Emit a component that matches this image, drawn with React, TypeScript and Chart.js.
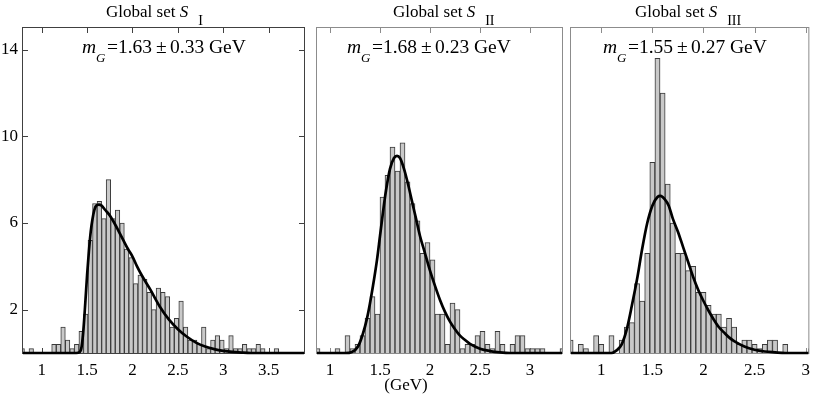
import React, { useEffect, useRef } from 'react';
import { Chart, registerables } from 'chart.js';
Chart.register(...registerables);

const W = 817;
const H = 396;
const SERIF = '"Liberation Serif", "Times New Roman", serif';

// ---------- data ----------
const Y_TICKS = [2, 6, 10, 14];
const S1_X_TICKS = [1, 1.5, 2, 2.5, 3, 3.5];
const S2_X_TICKS = [1, 1.5, 2, 2.5, 3];
const S3_X_TICKS = [1, 1.5, 2, 2.5, 3];

// Global set S_I : histogram bin centres (GeV) and heights
const S1_BIN_CENTERS = [0.785, 0.835, 0.885, 0.935, 0.985, 1.035, 1.085, 1.135, 1.185, 1.235, 1.285, 1.335, 1.385, 1.435, 1.485, 1.535, 1.585, 1.635, 1.685, 1.735, 1.785, 1.835, 1.885, 1.935, 1.985, 2.035, 2.085, 2.135, 2.185, 2.235, 2.285, 2.335, 2.385, 2.435, 2.485, 2.535, 2.585, 2.635, 2.685, 2.735, 2.785, 2.835, 2.885, 2.935, 2.985, 3.035, 3.085, 3.135, 3.185, 3.235, 3.285, 3.335, 3.385, 3.435, 3.485, 3.535, 3.585];
const S1_COUNTS = [0.2, 0, 0.2, 0, 0, 0, 0, 0.4, 0.4, 1.2, 0.6, 0.2, 0.4, 1.0, 1.8, 5.2, 6.9, 7.0, 6.2, 8.0, 6.2, 6.6, 6.0, 4.8, 4.4, 3.2, 3.6, 3.4, 2.8, 2.0, 3.0, 2.8, 2.6, 1.2, 1.6, 2.4, 1.2, 0.6, 0.6, 0.4, 1.2, 0.2, 0.6, 0.8, 0.6, 0.2, 0.8, 0.2, 0.2, 0.4, 0.2, 0.2, 0.4, 0.2, 0, 0, 0.2];
const S1_FIT_X = [0.794, 1.38, 1.42, 1.44, 1.46, 1.48, 1.5, 1.52, 1.54, 1.56, 1.58, 1.6, 1.63, 1.66, 1.7, 1.75, 1.8, 1.85, 1.9, 1.95, 2.0, 2.05, 2.1, 2.2, 2.3, 2.4, 2.5, 2.6, 2.7, 2.8, 2.9, 3.0, 3.1, 3.2, 3.3, 3.889];
const S1_FIT_Y = [0, 0, 0.05, 0.3, 1.1, 2.3, 3.6, 4.7, 5.6, 6.2, 6.6, 6.8, 6.85, 6.8, 6.6, 6.35, 6.0, 5.6, 5.2, 4.8, 4.45, 4.0, 3.6, 2.9, 2.15, 1.55, 1.1, 0.75, 0.48, 0.3, 0.18, 0.1, 0.05, 0.02, 0, 0];

// Global set S_II
const S2_BIN_CENTERS = [0.875, 0.925, 0.975, 1.025, 1.075, 1.125, 1.175, 1.225, 1.275, 1.325, 1.375, 1.425, 1.475, 1.525, 1.575, 1.625, 1.675, 1.725, 1.775, 1.825, 1.875, 1.925, 1.975, 2.025, 2.075, 2.125, 2.175, 2.225, 2.275, 2.325, 2.375, 2.425, 2.475, 2.525, 2.575, 2.625, 2.675, 2.725, 2.775, 2.825, 2.875, 2.925, 2.975, 3.025, 3.075, 3.125, 3.175, 3.225, 3.275, 3.325];
const S2_COUNTS = [0.2, 0, 0, 0, 0.2, 0, 0.8, 0.2, 0.4, 0.8, 1.6, 2.6, 1.8, 7.2, 8.2, 9.5, 8.4, 9.7, 7.9, 6.9, 6.1, 4.6, 5.1, 4.3, 1.8, 1.8, 0.4, 2.3, 2.0, 0.2, 0.4, 0.4, 0.8, 1.0, 0.4, 0.2, 1.0, 0.4, 0, 0.4, 0.8, 0.8, 0.2, 0.2, 0.2, 0.2, 0, 0, 0, 0.2];
const S2_FIT_X = [0.87, 1.15, 1.22, 1.28, 1.33, 1.37, 1.4, 1.43, 1.47, 1.5, 1.53, 1.56, 1.6, 1.64, 1.67, 1.7, 1.74, 1.78, 1.82, 1.86, 1.9, 1.95, 2.0, 2.05, 2.1, 2.15, 2.2, 2.25, 2.3, 2.35, 2.4, 2.5, 2.6, 2.7, 2.8, 3.32];
const S2_FIT_Y = [0, 0, 0.05, 0.3, 0.9, 1.6, 2.3, 3.1, 4.3, 5.4, 6.5, 7.5, 8.5, 9.0, 9.1, 9.0, 8.5, 7.8, 7.0, 6.2, 5.4, 4.6, 3.8, 3.1, 2.45, 1.9, 1.45, 1.1, 0.8, 0.6, 0.42, 0.2, 0.09, 0.03, 0, 0];

// Global set S_III
const S3_BIN_CENTERS = [0.7, 0.75, 0.8, 0.85, 0.9, 0.95, 1.0, 1.05, 1.1, 1.15, 1.2, 1.25, 1.3, 1.35, 1.4, 1.45, 1.5, 1.55, 1.6, 1.65, 1.7, 1.75, 1.8, 1.85, 1.9, 1.95, 2.0, 2.05, 2.1, 2.15, 2.2, 2.25, 2.3, 2.35, 2.4, 2.45, 2.5, 2.55, 2.6, 2.65, 2.7, 2.75, 2.8, 2.85, 2.9, 2.95, 3.0, 3.05];
const S3_COUNTS = [0.6, 0, 0.4, 0.2, 0, 0.8, 0.4, 0, 0.8, 0, 0.6, 1.2, 1.4, 3.2, 2.4, 4.6, 8.8, 13.6, 12.0, 7.8, 6.0, 4.6, 4.6, 3.8, 4.0, 2.8, 2.8, 2.2, 1.8, 1.8, 1.2, 1.6, 1.2, 0.4, 0.6, 0.6, 0.4, 0.2, 0.4, 0.6, 0.6, 0, 0.4, 0, 0, 0, 0, 0.2];
const S3_FIT_X = [0.704, 1.1, 1.15, 1.2, 1.25, 1.3, 1.35, 1.4, 1.45, 1.5, 1.55, 1.58, 1.62, 1.66, 1.7, 1.75, 1.8, 1.85, 1.9, 1.95, 2.0, 2.05, 2.1, 2.15, 2.2, 2.25, 2.3, 2.4, 2.5, 2.6, 2.7, 2.8, 3.026];
const S3_FIT_Y = [0, 0, 0.12, 0.4, 1.1, 2.2, 3.4, 4.8, 6.0, 6.8, 7.2, 7.25, 7.1, 6.8, 6.2, 5.6, 4.9, 4.2, 3.5, 2.9, 2.4, 1.95, 1.55, 1.2, 0.95, 0.72, 0.55, 0.3, 0.15, 0.07, 0.03, 0, 0];

const MASS = ['1.63', '1.68', '1.55'];
const ERR = ['0.33', '0.23', '0.27'];
const SUBS = ['I', 'II', 'III'];

// ---------- layout ----------
type Txt = { t: string; x?: number; gap?: number; y: number; size: number; italic?: boolean; align?: CanvasTextAlign };

function panelTexts(i: number, titleX: number, mX: number): Txt[] {
  return [
    { t: 'Global set ', x: titleX, y: 17, size: 17 },
    { t: 'S', y: 17, size: 17, italic: true },
    { t: SUBS[i], gap: 10, y: 25, size: 14 },
    { t: 'm', x: mX, y: 53, size: 19.5, italic: true },
    { t: 'G', x: mX + 14, y: 62, size: 13, italic: true },
    { t: '=' + MASS[i], x: mX + 25, y: 53, size: 19.5 },
    { t: '\u00b1', x: mX + 74, y: 53, size: 19.5 },
    { t: ERR[i] + ' GeV', x: mX + 88, y: 53, size: 19.5 },
  ];
}

const Y_AXIS_W = 23;

const PANELS = [
  { left: 23, right: 304, xMin: 0.794, xMax: 3.889, xTicks: S1_X_TICKS, centers: S1_BIN_CENTERS, values: S1_COUNTS, fx: S1_FIT_X, fy: S1_FIT_Y, showY: true, frame: '#404040', texts: panelTexts(0, 106, 82) },
  { left: 317, right: 562, xMin: 0.87, xMax: 3.32, xTicks: S2_X_TICKS, centers: S2_BIN_CENTERS, values: S2_COUNTS, fx: S2_FIT_X, fy: S2_FIT_Y, showY: false, frame: '#8c8c8c', texts: [...panelTexts(1, 393, 347), { t: '(GeV)', x: 406, y: 390, size: 17, align: 'center' as CanvasTextAlign }] },
  { left: 571, right: 812, xMin: 0.704, xMax: 3.026, xTicks: S3_X_TICKS, centers: S3_BIN_CENTERS, values: S3_COUNTS, fx: S3_FIT_X, fy: S3_FIT_Y, showY: false, frame: '#8c8c8c', texts: panelTexts(2, 635, 603) },
];

const textPlugin = {
  id: 'texts',
  afterDraw(chart: any, _args: any, opts: any) {
    const ctx = chart.ctx as CanvasRenderingContext2D;
    ctx.save();
    ctx.fillStyle = '#000';
    ctx.textBaseline = 'alphabetic';
    let prevEnd = 0;
    for (const it of (opts.items || []) as Txt[]) {
      ctx.font = `${it.italic ? 'italic ' : ''}${it.size}px ${SERIF}`;
      ctx.textAlign = it.align || 'left';
      const x = it.x !== undefined ? it.x : prevEnd + (it.gap || 0);
      ctx.fillText(it.t, x, it.y);
      prevEnd = x + ctx.measureText(it.t).width;
    }
    ctx.restore();
  },
};

const framePlugin = {
  id: 'frame',
  beforeDatasetsDraw(chart: any, _args: any, opts: any) {
    const ctx = chart.ctx as CanvasRenderingContext2D;
    const a = chart.chartArea;
    const xs = chart.scales.x;
    const ys = chart.scales.y;
    ctx.save();
    ctx.strokeStyle = opts.color;
    ctx.lineWidth = 1;
    ctx.strokeRect(a.left - 0.5, a.top - 0.5, a.right - a.left + 1, a.bottom - a.top + 1);
    ctx.beginPath();
    const L = 5;
    for (const t of xs.ticks) {
      const px = Math.round(xs.getPixelForValue(t.value)) + 0.5;
      ctx.moveTo(px, a.top);
      ctx.lineTo(px, a.top + L);
      ctx.moveTo(px, a.bottom);
      ctx.lineTo(px, a.bottom - L);
    }
    if (opts.yTicks) {
      for (const t of ys.ticks) {
        const py = Math.round(ys.getPixelForValue(t.value)) + 0.5;
        ctx.moveTo(a.left, py);
        ctx.lineTo(a.left + L, py);
        ctx.moveTo(a.right, py);
        ctx.lineTo(a.right - L, py);
      }
    }
    ctx.stroke();
    ctx.restore();
  },
};

function makeConfig(p: typeof PANELS[number]): any {
  const bars = p.centers.map((x, i) => ({ x, y: p.values[i] }));
  const fit = p.fx.map((x, i) => ({ x, y: p.fy[i] }));
  const font = { family: SERIF, size: 17 };
  const yW = p.showY ? Y_AXIS_W : 0;
  return {
    type: 'bar',
    data: {
      datasets: [
        {
          type: 'line',
          data: fit,
          borderColor: '#000',
          borderWidth: 2.7,
          pointRadius: 0,
          cubicInterpolationMode: 'monotone',
          fill: false,
          order: 0,
          clip: false,
        },
        {
          type: 'bar',
          data: bars,
          backgroundColor: '#c9c9c9',
          borderColor: '#3a3a3a',
          borderWidth: 1,
          borderSkipped: 'bottom',
          barPercentage: 1,
          categoryPercentage: 1,
          order: 1,
        },
      ],
    },
    options: {
      responsive: false,
      animation: false,
      devicePixelRatio: 1,
      events: [],
      layout: { padding: { left: p.left - yW, right: W - p.right, top: 28, bottom: 0 } },
      plugins: {
        legend: { display: false },
        tooltip: { enabled: false },
        title: { display: false },
        frame: { color: p.frame, yTicks: p.showY },
        texts: { items: p.texts },
      },
      scales: {
        x: {
          type: 'linear',
          min: p.xMin,
          max: p.xMax,
          offset: false,
          grid: { display: false, drawTicks: false, offset: false },
          border: { display: false },
          ticks: { font, color: '#000', padding: 7, autoSkip: false, maxRotation: 0, callback: (v: number) => String(v) },
          afterBuildTicks: (s: any) => { s.ticks = p.xTicks.map((v) => ({ value: v })); },
          afterFit: (s: any) => { s.height = H - 353; },
        },
        y: {
          display: p.showY,
          min: 0,
          max: 15,
          grid: { display: false, drawTicks: false },
          border: { display: false },
          ticks: { font, color: '#000', padding: 5 },
          afterBuildTicks: (s: any) => { s.ticks = Y_TICKS.map((v) => ({ value: v })); },
          afterFit: (s: any) => { s.width = yW; },
        },
      },
    },
    plugins: [framePlugin, textPlugin],
  };
}

export default function App() {
  const r0 = useRef<HTMLCanvasElement>(null);
  const r1 = useRef<HTMLCanvasElement>(null);
  const r2 = useRef<HTMLCanvasElement>(null);
  const refs = [r0, r1, r2];
  useEffect(() => {
    const charts = PANELS.map((p, i) => new Chart(refs[i].current as HTMLCanvasElement, makeConfig(p)));
    return () => charts.forEach((c) => c.destroy());
  }, []);
  return (
    <div style={{ position: 'absolute', left: 0, top: 0, width: W, height: H, background: '#fff' }}>
      {refs.map((r, i) => (
        <canvas key={i} ref={r} width={W} height={H} style={{ position: 'absolute', left: 0, top: 0, width: W, height: H }} />
      ))}
    </div>
  );
}
